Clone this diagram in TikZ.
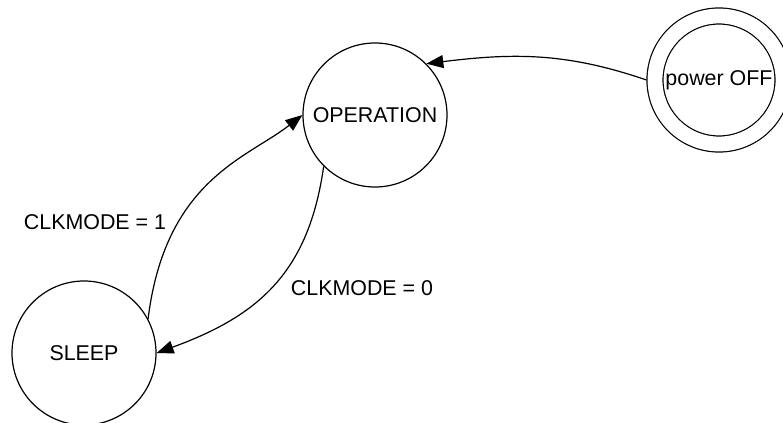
\documentclass[tikz,border=0pt]{standalone}
\usepackage{fontspec}
\setmainfont{Liberation Sans}
\usetikzlibrary{arrows.meta}
\usetikzlibrary{positioning}
\tikzset{
  Zustand/.style={circle,draw,line width=.6pt,minimum size=72pt,inner sep=0pt}, % für Zustände
  Ende/.style={Zustand,minimum size=64pt,double,double distance=7.4pt,outer sep=4.3pt},% doppelter Kreis
  Pfeil/.style={line width=.6pt,->}, % für Übergänge
  Text/.style={inner sep=0pt} % für Beschriftungen
}
\begin{document}
\begin{tikzpicture}[
x=.5pt, y=-.5pt,
font=\fontsize{10.7}{12.8}\selectfont,
>={Triangle[length=8.5pt,width=6.5pt]} % Voreinstellung für Pfeilspitzen
]
\useasboundingbox (0,0) rectangle (783,423);

%Zustände
\node[Zustand] (Op) at (375,115) {OPERATION};
\node[Zustand] (Sleep) at (84,353) {SLEEP};
\node[Ende] (Off) at (719,80) {power OFF};

%Übergänge
\draw[Pfeil] (Off.west) to [out=161, in=7] (Op.45);
\draw[Pfeil] (Op.225) to [out=262, in=20, looseness=1.1] (Sleep.east);
\draw[Pfeil] (Sleep.28) .. controls +(83:70pt) and +(218:35pt) .. (Op.west);

%Beschriftungen
\node[Text] (L1) at (95,222) {CLKMODE = 1};
\node[Text] (L0) at (362,288) {CLKMODE = 0};

\end{tikzpicture}
\end{document}
